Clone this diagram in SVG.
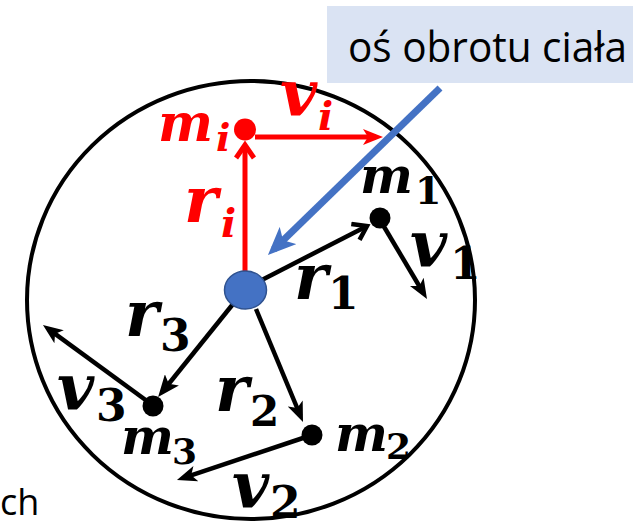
<svg xmlns="http://www.w3.org/2000/svg" width="633" height="523" viewBox="0 0 633 523">
<style>
.math{font-family:"DejaVu Serif","Liberation Serif",serif;font-weight:bold;font-style:italic}
.dig{font-style:normal}
.red{fill:#ff0000}
.blk{fill:#000000}
.lbl{font-family:"Open Sans","Noto Sans","Liberation Sans",sans-serif;fill:#000}
.ln{fill:none;stroke:#000;stroke-width:4.5}
.lnr{fill:none;stroke:#ff0000;stroke-width:5}
</style>
<defs>
<marker id="stealth" markerUnits="userSpaceOnUse" markerWidth="20" markerHeight="16" refX="13" refY="8" orient="auto" viewBox="0 0 20 16">
<path d="M0,0 L20,8 L0,16 L5,8 Z" fill="#000"/>
</marker>
<marker id="stealthB" markerUnits="userSpaceOnUse" markerWidth="22" markerHeight="18" refX="11" refY="9" orient="auto" viewBox="0 0 22 18">
<path d="M0,0 L22,9 L0,18 L5,9 Z" fill="#000"/>
</marker>
<marker id="stealthR" markerUnits="userSpaceOnUse" markerWidth="20" markerHeight="16" refX="13" refY="8" orient="auto" viewBox="0 0 20 16">
<path d="M0,0 L20,8 L0,16 L5,8 Z" fill="#ff0000"/>
</marker>
<marker id="openK" markerUnits="userSpaceOnUse" markerWidth="22" markerHeight="22" refX="14" refY="11" orient="auto" viewBox="0 0 22 22">
<path d="M3,2 L16,11 L3,20" fill="none" stroke="#000" stroke-width="4.5"/>
</marker>
<marker id="openR" markerUnits="userSpaceOnUse" markerWidth="22" markerHeight="22" refX="14" refY="11" orient="auto" viewBox="0 0 22 22">
<path d="M3,2 L16,11 L3,20" fill="none" stroke="#ff0000" stroke-width="5"/>
</marker>
<marker id="blueHead" markerUnits="userSpaceOnUse" markerWidth="28" markerHeight="24" refX="20" refY="12" orient="auto" viewBox="0 0 28 24">
<path d="M0,0 L28,12 L0,24 L7,12 Z" fill="#4472C4"/>
</marker>
</defs>

<g id="label-box">
<rect x="327" y="6" width="306" height="77" fill="#DAE3F3"/>
<text class="lbl" x="348" y="62" font-size="42" textLength="279" lengthAdjust="spacingAndGlyphs">oś obrotu ciała</text>
</g>

<g id="body">
<ellipse cx="251" cy="300" rx="224" ry="219" fill="none" stroke="#000" stroke-width="4"/>
</g>

<text class="lbl" x="0" y="515" font-size="36">ch</text>

<g id="connectors">
<line class="lnr" x1="245" y1="271" x2="245" y2="147" marker-end="url(#openR)"/>
<line class="lnr" x1="255" y1="137" x2="376" y2="137" marker-end="url(#stealthR)"/>
<line class="ln" x1="256" y1="283" x2="365.2" y2="226.9" marker-end="url(#openK)"/>
<line class="ln" x1="383" y1="225" x2="423.4" y2="293" marker-end="url(#stealth)"/>
<line class="ln" x1="233" y1="304" x2="165" y2="388.5" stroke-width="6.5" marker-end="url(#stealthB)"/>
<line class="ln" x1="147" y1="401" x2="48.6" y2="329.1" marker-end="url(#stealth)"/>
<line class="ln" x1="256" y1="309" x2="300.3" y2="415.5" marker-end="url(#stealth)"/>
<line class="ln" x1="306" y1="437" x2="183.6" y2="477.8" marker-end="url(#stealth)"/>
<line x1="440" y1="88" x2="273.7" y2="249.4" stroke="#4472C4" stroke-width="7" marker-end="url(#blueHead)"/>
</g>

<g id="center">
<ellipse cx="245.5" cy="290" rx="21" ry="19" fill="#4472C4" stroke="#2F528F" stroke-width="1.5"/>
</g>

<g id="mass-i">
<circle cx="245" cy="129.5" r="11" fill="#ff0000"/>
<text class="math red" x="158" y="141" font-size="52">m</text>
<text class="math red" x="216" y="151" font-size="38">i</text>
<text class="math red" x="280" y="115" font-size="64">v</text>
<text class="math red" x="318" y="130" font-size="40">i</text>
<text class="math red" x="184" y="222" font-size="64">r</text>
<text class="math red" x="221" y="237" font-size="40">i</text>
</g>

<g id="mass-1">
<circle cx="380" cy="218" r="10.5" fill="#000"/>
<text class="math blk" x="360" y="193" font-size="50">m</text>
<text class="math blk dig" x="415" y="204" font-size="38">1</text>
<text class="math blk" x="294" y="299" font-size="64">r</text>
<text class="math blk dig" x="328" y="309" font-size="44">1</text>
<text class="math blk" x="410" y="266" font-size="64">v</text>
<text class="math blk dig" x="450" y="279" font-size="44">1</text>
</g>

<g id="mass-2">
<circle cx="312" cy="435" r="10.5" fill="#000"/>
<text class="math blk" x="335" y="451" font-size="50">m</text>
<text class="math blk dig" x="386" y="459" font-size="36">2</text>
<text class="math blk" x="215" y="411" font-size="64">r</text>
<text class="math blk dig" x="250" y="426" font-size="42">2</text>
<text class="math blk" x="232" y="507" font-size="64">v</text>
<text class="math blk dig" x="270" y="518" font-size="44">2</text>
</g>

<g id="mass-3">
<circle cx="153" cy="406" r="10.5" fill="#000"/>
<text class="math blk" x="121" y="454" font-size="50">m</text>
<text class="math blk dig" x="172" y="464" font-size="36">3</text>
<text class="math blk" x="125" y="336" font-size="64">r</text>
<text class="math blk dig" x="160" y="351" font-size="44">3</text>
<text class="math blk" x="57" y="409" font-size="64">v</text>
<text class="math blk dig" x="96" y="421" font-size="44">3</text>
</g>
</svg>
